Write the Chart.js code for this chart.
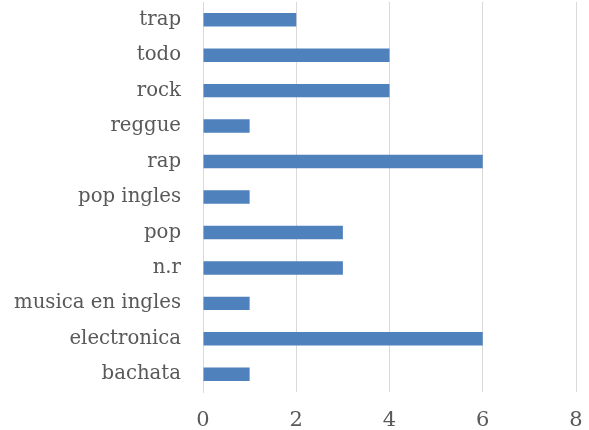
<!DOCTYPE html>
<html><head><meta charset="utf-8">
<script src="https://cdn.jsdelivr.net/npm/chart.js@4"></script>
<style>html,body{margin:0;padding:0;background:#fff}</style>
</head><body>
<canvas id="c" width="589" height="430"></canvas>
<script>
const categories = ["trap","todo","rock","reggue","rap","pop ingles","pop","n.r","musica en ingles","electronica","bachata"];
const values = [2,4,4,1,6,1,3,3,1,6,1];
const xTicks = [0,2,4,6,8];

new Chart(document.getElementById('c'), {
  type: 'bar',
  data: { labels: categories, datasets: [{ data: values, backgroundColor: '#4f81bd', borderWidth: 0, barPercentage: 0.38, categoryPercentage: 1 }] },
  options: {
    indexAxis: 'y', responsive: false, animation: false,
    layout: { padding: { top: 2, right: 13, left: 0, bottom: 0 } },
    plugins: { legend: { display: false }, tooltip: { enabled: false } },
    scales: {
      x: {
        min: 0, max: 8,
        afterBuildTicks: s => { s.ticks = xTicks.map(v => ({ value: v })); },
        afterFit: s => { s.height = 38; s.paddingTop = 0; s.paddingBottom = 0; s.paddingLeft = 0; s.paddingRight = 0; },
        grid: { color: '#d9d9d9', lineWidth: 1, drawTicks: false },
        border: { display: false },
        ticks: { padding: 16, color: '#595959', font: { family: 'DejaVu Serif', size: 21 } }
      },
      y: {
        afterFit: s => { s.width = 203; s.paddingTop = 0; s.paddingBottom = 0; },
        grid: { display: false, drawTicks: false },
        border: { display: true, color: '#d9d9d9' },
        ticks: { padding: 22, color: '#595959', font: { family: 'DejaVu Serif', size: 19.7 } }
      }
    }
  }
});
</script>
</body></html>
